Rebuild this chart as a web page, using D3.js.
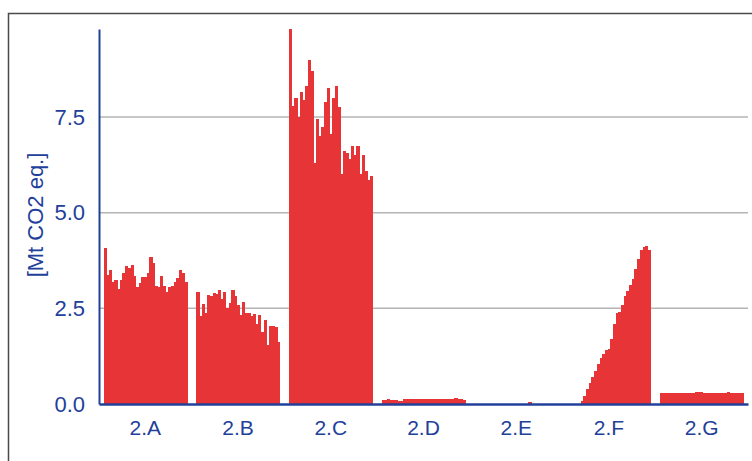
<!DOCTYPE html>
<html>
<head>
<meta charset="utf-8">
<script src="https://cdn.jsdelivr.net/npm/d3@7"></script>
<style>
  body { margin: 0; background: #fff; }
  svg { display: block; font-family: "Liberation Sans", Arial, sans-serif; }
</style>
</head>
<body>
<svg id="chart" width="752" height="461"></svg>
<script>
;(function() {
  var categories = ['2.A', '2.B', '2.C', '2.D', '2.E', '2.F', '2.G'];
  var years = d3.range(1990, 2021);
  var yTicks = [0, 2.5, 5, 7.5];

  var valuesA = [4.08, 3.37, 3.5, 3.19, 3.25, 3.0, 3.25, 3.43, 3.6, 3.56, 3.64, 3.34, 3.06, 3.15, 3.32,
    3.32, 3.43, 3.83, 3.69, 3.08, 3.06, 3.35, 3.08, 2.92, 3.06, 3.08, 3.19, 3.3, 3.5, 3.43, 3.19];
  var valuesB = [2.93, 2.31, 2.61, 2.37, 2.86, 2.83, 2.89, 2.87, 2.99, 2.74, 2.93, 2.5, 2.65, 2.99, 2.82,
    2.58, 2.32, 2.67, 2.38, 2.37, 2.3, 2.34, 2.08, 2.33, 1.89, 2.19, 1.55, 2.04, 2.03, 2.0, 1.63];
  var valuesC = [9.8, 7.8, 8.0, 7.5, 8.15, 7.95, 8.3, 9.0, 8.7, 6.3, 7.45, 7.0, 7.25, 7.9, 8.25,
    7.05, 8.0, 8.3, 7.75, 6.0, 6.6, 6.55, 6.4, 6.75, 6.5, 6.75, 6.0, 6.5, 6.1, 5.85, 5.95];
  var valuesD = [0.11, 0.1, 0.12, 0.1, 0.11, 0.1, 0.09, 0.09, 0.12, 0.13, 0.13, 0.14, 0.13, 0.13, 0.13,
    0.14, 0.14, 0.13, 0.14, 0.12, 0.12, 0.13, 0.13, 0.13, 0.13, 0.14, 0.14, 0.15, 0.14, 0.13, 0.1];
  var valuesE = [0, 0, 0, 0, 0, 0, 0, 0, 0, 0, 0, 0, 0, 0, 0,
    0, 0, 0, 0, 0, 0.04, 0, 0, 0, 0, 0, 0, 0, 0, 0, 0];
  var valuesF = [0, 0, 0, 0, 0, 0.08, 0.22, 0.4, 0.55, 0.7, 0.86, 1.05, 1.2, 1.3, 1.42,
    1.45, 1.7, 2.1, 2.38, 2.4, 2.6, 2.82, 2.95, 3.1, 3.27, 3.52, 3.78, 4.02, 4.09, 4.12, 4.03];
  var valuesG = [0.28, 0.28, 0.28, 0.28, 0.28, 0.29, 0.29, 0.29, 0.29, 0.29, 0.29, 0.29, 0.3, 0.31, 0.32,
    0.31, 0.3, 0.29, 0.29, 0.29, 0.29, 0.29, 0.29, 0.3, 0.3, 0.31, 0.3, 0.29, 0.29, 0.28, 0.28];

  var series = [valuesA, valuesB, valuesC, valuesD, valuesE, valuesF, valuesG];

  var blue = '#22409a',
    red = '#e73537',
    grid = '#b4b4b4';

  var svg = d3.select('#chart');

  // outer frame, cut off on right and bottom
  svg.append('path')
    .attr('d', 'M8.5,470V13.5H760')
    .attr('fill', 'none')
    .attr('stroke', '#4a4a4a')
    .attr('stroke-width', 1.5);

  var x = d3.scaleBand()
    .domain(categories)
    .range([99, 748])
    .paddingInner(0.1)
    .paddingOuter(0.05);

  var xYear = d3.scaleBand()
    .domain(years)
    .range([0, x.bandwidth()])
    .padding(0);

  var y = d3.scaleLinear()
    .domain([0, 9.8])
    .range([404, 29]);

  // grid lines
  svg.append('g')
    .classed('grid-lines', true)
    .selectAll('line')
    .data(yTicks.filter(function(d) { return d > 0; }))
    .enter()
    .append('line')
    .attr('x1', 99)
    .attr('x2', 748)
    .attr('y1', function(d) { return y(d); })
    .attr('y2', function(d) { return y(d); })
    .attr('stroke', grid)
    .attr('stroke-width', 1.5);

  // bars
  var groups = svg.append('g')
    .classed('bars', true)
    .attr('shape-rendering', 'crispEdges')
    .selectAll('g')
    .data(series)
    .enter()
    .append('g')
    .attr('transform', function(d, i) { return 'translate(' + x(categories[i]) + ',0)'; });

  groups.selectAll('rect')
    .data(function(d) { return d; })
    .enter()
    .append('rect')
    .attr('x', function(d, i) { return xYear(years[i]); })
    .attr('width', xYear.bandwidth() + 0.5)
    .attr('y', function(d) { return y(d); })
    .attr('height', function(d) { return y(0) - y(d); })
    .attr('fill', red);

  // y axis
  var yAxis = svg.append('g')
    .attr('transform', 'translate(99,0)')
    .call(d3.axisLeft(y).tickValues(yTicks).tickSize(0).tickPadding(14).tickFormat(d3.format('.1f')));
  yAxis.select('.domain')
    .attr('stroke', blue)
    .attr('stroke-width', 2);
  yAxis.selectAll('text')
    .attr('fill', blue)
    .style('font-size', '22px');

  // x axis
  var xAxis = svg.append('g')
    .attr('transform', 'translate(0,404)')
    .call(d3.axisBottom(x).tickSize(0).tickPadding(16));
  xAxis.select('.domain')
    .attr('stroke', blue)
    .attr('stroke-width', 2.5);
  xAxis.selectAll('text')
    .attr('fill', blue)
    .style('font-size', '21px');

  svg.append('text')
    .attr('transform', 'translate(43,215) rotate(-90)')
    .attr('text-anchor', 'middle')
    .attr('fill', blue)
    .style('font-size', '22px')
    .text('[Mt CO2 eq.]');
})();
</script>
</body>
</html>
